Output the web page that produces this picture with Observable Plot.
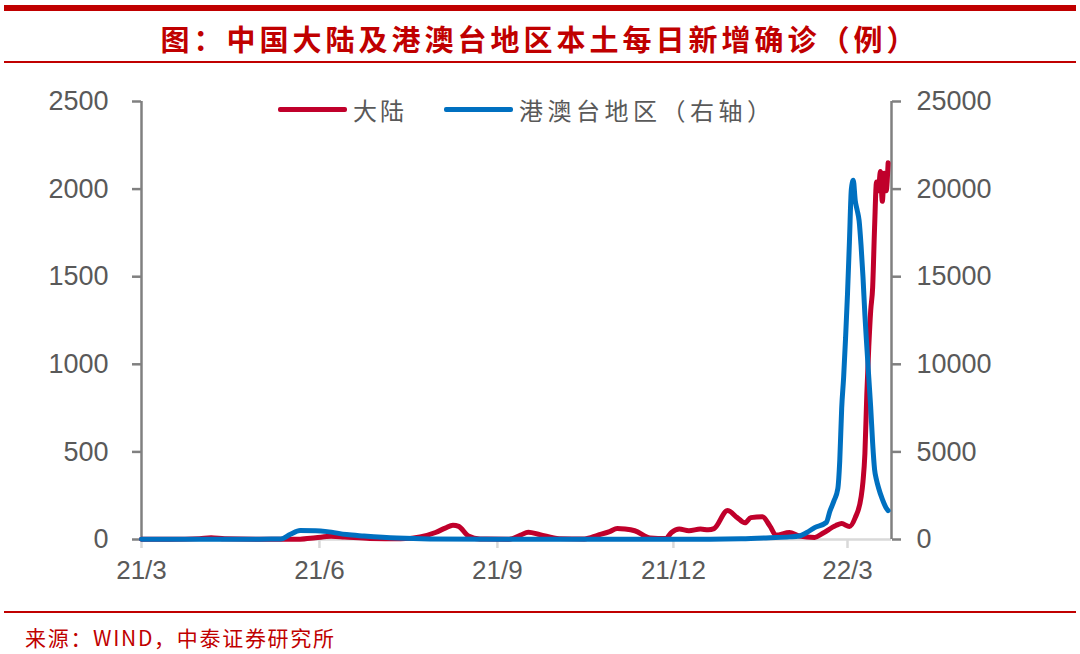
<!DOCTYPE html>
<html>
<head>
<meta charset="utf-8">
<script src="https://cdn.jsdelivr.net/npm/d3@7"></script>
<script src="https://cdn.jsdelivr.net/npm/@observablehq/plot@0.6"></script>
<style>
  body { margin: 0; background: #fff; }
  #wrap { position: relative; width: 1080px; height: 654px; overflow: hidden; background: #fff; }
  #chart { position: absolute; left: 0; top: 0; }
  .hline { position: absolute; left: 4px; width: 1072px; background: #C00000; }
  #title { position: absolute; left: 0; width: 1080px; top: 18px; text-align: center;
    font-family: "Noto Sans CJK SC", sans-serif; font-weight: 700; font-size: 29px; letter-spacing: 4px;
    color: #C00000; line-height: 40px; }
  #source { position: absolute; left: 25px; top: 623px; font-family: "Noto Sans CJK SC", sans-serif;
    font-size: 21px; letter-spacing: 1.7px; color: #C00000; line-height: 28px; }
  #legend { position: absolute; top: 93px; left: 278px; height: 32px; display: flex; align-items: center;
    font-family: "Noto Sans CJK SC", sans-serif; font-size: 24px; letter-spacing: 3px; color: #595959; }
  .sw { display: inline-block; width: 69px; height: 5px; border-radius: 2px; margin-right: 6px; }
</style>
</head>
<body>
<div id="wrap">
  <div class="hline" style="top:5px;height:6px"></div>
  <div id="title">图：中国大陆及港澳台地区本土每日新增确诊（例）</div>
  <div class="hline" style="top:61px;height:2px"></div>
  <div id="chart"></div>
  <div id="legend">
    <span class="sw" style="background:#C0002B"></span><span>大陆</span>
    <span class="sw" style="background:#0070C0;margin-left:37px"></span><span style="letter-spacing:4.5px">港澳台地区（右轴）</span>
  </div>
  <div class="hline" style="top:611px;height:2px"></div>
  <div id="source">来源：WIND，中泰证券研究所</div>
</div>
<script>
// Mainland daily new local confirmed cases (left axis)
const mainlandDates = ["2021-03-01","2021-03-16","2021-03-31","2021-04-06","2021-04-13","2021-05-01","2021-05-22","2021-05-30","2021-06-07","2021-06-14","2021-06-27","2021-07-13","2021-07-23","2021-07-31","2021-08-05","2021-08-09","2021-08-12","2021-08-17","2021-08-23","2021-09-07","2021-09-13","2021-09-17","2021-09-23","2021-10-03","2021-10-16","2021-10-23","2021-10-29","2021-11-02","2021-11-06","2021-11-11","2021-11-19","2021-11-27","2021-11-30","2021-12-04","2021-12-09","2021-12-15","2021-12-19","2021-12-22","2021-12-29","2022-01-03","2022-01-07","2022-01-10","2022-01-16","2022-01-20","2022-01-23","2022-01-30","2022-02-04","2022-02-12","2022-02-16","2022-02-23","2022-02-26","2022-03-02","2022-03-05","2022-03-08","2022-03-09","2022-03-10","2022-03-11","2022-03-12","2022-03-13","2022-03-14","2022-03-15","2022-03-16","2022-03-17","2022-03-18","2022-03-19","2022-03-20","2022-03-21","2022-03-22"];
const mainlandValues = [2,1,5,10,4,2,2,10,18,14,6,4,15,40,65,82,75,20,3,2,25,42,28,5,3,25,45,63,60,50,8,5,40,60,50,60,55,62,165,125,95,125,130,75,25,40,20,12,34,80,91,74,125,240,330,490,833,1100,1307,1438,1780,2040,1990,2100,1930,2090,1990,2150];

// Hong Kong, Macao & Taiwan daily new local confirmed cases (right axis)
const hmtDates = ["2021-03-01","2021-04-01","2021-05-01","2021-05-12","2021-05-17","2021-05-22","2021-05-30","2021-06-05","2021-06-15","2021-06-24","2021-07-11","2021-07-28","2021-09-01","2021-11-01","2021-12-20","2022-01-05","2022-01-20","2022-01-30","2022-02-04","2022-02-08","2022-02-12","2022-02-18","2022-02-20","2022-02-22","2022-02-24","2022-02-25","2022-02-26","2022-02-27","2022-02-28","2022-03-01","2022-03-02","2022-03-03","2022-03-04","2022-03-05","2022-03-06","2022-03-07","2022-03-08","2022-03-09","2022-03-10","2022-03-11","2022-03-12","2022-03-13","2022-03-14","2022-03-15","2022-03-16","2022-03-17","2022-03-19","2022-03-21","2022-03-22"];
const hmtValues = [20,15,20,30,300,510,500,450,280,200,80,30,15,10,15,40,100,150,200,400,680,970,1650,2200,2900,4500,7500,9250,11500,14000,17000,20000,20500,19350,18800,18200,16800,15000,12800,11000,9250,7530,5500,4000,3400,2970,2300,1800,1650];

const xTicks = ["2021-03-01","2021-06-01","2021-09-01","2021-12-01","2022-03-01"];
const yTicks = [0, 500, 1000, 1500, 2000, 2500];
const rightRatio = 10; // right axis = left axis * 10

const mainland = mainlandDates.map((d, i) => ({date: new Date(d), value: mainlandValues[i]}));
const hmt = hmtDates.map((d, i) => ({date: new Date(d), value: hmtValues[i] / rightRatio}));
const xStart = new Date("2021-03-01"), xEnd = new Date("2022-03-23T18:00:00Z");

const chart = Plot.plot({
  width: 1080,
  height: 654,
  marginTop: 101,
  marginBottom: 115,
  marginLeft: 141,
  marginRight: 189,
  style: {fontFamily: "'Liberation Sans', Arial, sans-serif", background: "transparent"},
  x: {type: "utc", domain: [xStart, xEnd]},
  y: {domain: [0, 2500]},
  marks: [
    Plot.ruleY([0], {stroke: "#d9d9d9", strokeWidth: 2.5}),
    Plot.axisX(xTicks.map(d => new Date(d)), {
      tickFormat: d3.utcFormat("%y/%-m"), tickSize: 9, tickPadding: 12,
      stroke: "#d9d9d9", strokeWidth: 2.5, fill: "#595959", fontSize: 26, label: null
    }),
    Plot.axisY(yTicks, {
      anchor: "left", tickSize: 9, tickPadding: 24, stroke: "#808080", strokeWidth: 2.5,
      fill: "#595959", fontSize: 27, label: null, tickFormat: d => String(d)
    }),
    Plot.axisY(yTicks, {
      anchor: "right", tickSize: 9, tickPadding: 16, stroke: "#808080", strokeWidth: 2.5,
      fill: "#595959", fontSize: 27, label: null, tickFormat: d => String(d * rightRatio)
    }),
    Plot.ruleX([xStart], {stroke: "#808080", strokeWidth: 2.5}),
    Plot.ruleX([xEnd], {stroke: "#808080", strokeWidth: 2.5}),
    Plot.line(mainland, {x: "date", y: "value", stroke: "#C0002B", strokeWidth: 5, curve: "monotone-x"}),
    Plot.line(hmt, {x: "date", y: "value", stroke: "#0070C0", strokeWidth: 5, curve: "monotone-x"})
  ]
});
document.getElementById("chart").appendChild(chart);
</script>
</body>
</html>
